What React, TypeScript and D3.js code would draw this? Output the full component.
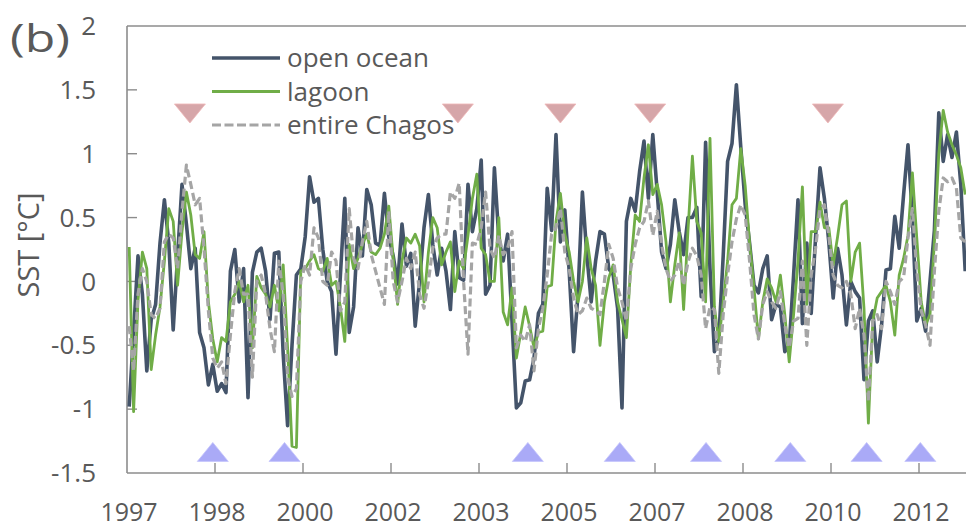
import React from "react";
import * as d3 from "d3";

// Monthly SST anomalies (°C), January 1997 onward
const openOcean = [
  -0.98, -0.4, 0.2, -0.1, -0.7, -0.3, -0.18, 0.3, 0.64, 0.3,
  -0.38, 0.2, 0.76, 0.45, 0.1, 0.26, -0.4, -0.52, -0.81, -0.65,
  -0.86, -0.8, -0.87, 0.08, 0.25, -0.16, 0.1, -0.91, 0.07, 0.23,
  0.26, 0.08, -0.3, 0.22, 0.23, -0.57, -1.13, -0.5, 0.05, 0.1,
  0.35, 0.82, 0.62, 0.65, 0.25, 0.0, -0.08, -0.57, 0.05, 0.65,
  -0.4, -0.2, 0.42, 0.2, 0.72, 0.6, 0.3, 0.28, 0.69, 0.35,
  0.2, -0.02, 0.45, 0.12, 0.22, -0.35, 0.0, 0.42, 0.68, 0.29,
  0.05, 0.26, 0.08, -0.22, 0.39, 0.03, 0.01, 0.76, 0.39, 0.57,
  0.95, -0.1, -0.03, 0.89, 0.34, 0.16, 0.37, -0.31, -0.99, -0.95,
  -0.78, -0.77, -0.6, -0.25, -0.18, 0.73, 0.4, 1.15, 0.31, 0.56,
  0.08, -0.55, -0.1, 0.7, 0.21, -0.16, 0.16, 0.39, 0.37, 0.1,
  0.05, -0.21, -0.99, 0.47, 0.65, 0.55, 0.86, 1.1, 0.65, 1.15,
  0.7, 0.23, 0.1, 0.29, 0.64, 0.39, 0.21, 0.5, 0.5, 0.58,
  -0.12, 1.09, 0.1, -0.55, -0.45, 0.2, 0.94, 1.08, 1.54, 1.05,
  0.6, 0.3, -0.03, -0.09, 0.1, 0.2, -0.3, -0.18, -0.2, -0.55,
  -0.5, 0.05, 0.64, -0.33, 0.3, -0.25, 0.35, 0.89, 0.65, 0.31,
  -0.13, 0.26, 0.05, -0.34, 0.0, -0.08, -0.13, -0.77, -0.31, -0.23,
  -0.63, -0.34, 0.09, 0.1, 0.51, 0.26, 0.68, 1.07, 0.5, -0.31,
  -0.21, -0.39, 0.0, 0.4, 1.32, 0.94, 1.15, 0.97, 1.17, 0.76,
  0.08,
];

const lagoon = [
  0.27, -1.02, -0.15, 0.23, 0.1, -0.69, -0.42, -0.2, 0.16, 0.57,
  0.47, -0.03, 0.39, 0.7, 0.52, 0.21, 0.18, 0.39, -0.16, -0.45,
  -0.63, -0.44, -0.47, -0.16, -0.1, 0.0, -0.16, -0.03, -0.52, 0.04,
  -0.05, -0.1, -0.2, -0.03, -0.23, 0.13, -0.52, -1.29, -1.3, 0.08,
  0.1, 0.16, 0.21, 0.1, 0.08, 0.18, -0.03, 0.0, -0.2, -0.47,
  0.29, 0.1, 0.18, 0.29, 0.37, 0.23, 0.21, 0.26, 0.37, 0.59,
  0.18, -0.18, 0.16, 0.34, 0.3, 0.37, 0.28, -0.16, 0.23, 0.5,
  0.42, 0.13, 0.23, 0.31, -0.08, 0.16, 0.1, 0.36, 0.65, 0.84,
  0.26, 0.21, 0.0, 0.0, 0.5, -0.24, -0.34, -0.05, -0.6, -0.4,
  -0.2, -0.35, -0.52, -0.4, -0.39, -0.04, -0.03, 0.47, 0.69, 0.37,
  0.23, 0.0, -0.16, 0.0, 0.34, 0.1, -0.03, -0.5, -0.16, 0.03,
  0.13, -0.16, -0.3, -0.44, 0.13, 0.52, 0.47, 0.81, 1.07, 0.68,
  0.76, 0.6, 0.31, -0.16, 0.13, 0.38, -0.22, 0.4, 0.98, 0.47,
  0.38, -0.16, 1.12, -0.2, -0.47, -0.16, 0.16, 0.6, 0.65, 1.04,
  0.75, 0.3, -0.05, -0.45, -0.16, 0.02, -0.05, -0.16, 0.05, -0.26,
  -0.63, -0.26, 0.16, 0.74, -0.18, 0.39, 0.39, 0.62, 0.42, 0.42,
  0.13, 0.35, 0.6, 0.63, 0.0, 0.23, 0.3, -0.21, -1.11, -0.31,
  -0.13, -0.08, -0.03, -0.16, -0.42, 0.05, 0.18, 0.36, 0.85, 0.34,
  -0.16, -0.34, -0.26, 0.31, 1.0, 1.34, 1.17, 1.07, 0.99, 0.89,
  0.68,
];

const entireChagos = [
  -0.35, -0.7, -0.1, 0.1, 0.0, -0.26, -0.29, -0.21, 0.31, 0.37,
  0.34, 0.1, 0.55, 0.91, 0.76, 0.6, 0.65, 0.26, -0.23, -0.6,
  -0.68, -0.63, -0.8, -0.42, -0.08, 0.1, -0.1, -0.1, -0.75, 0.0,
  0.05, -0.1, -0.37, -0.55, 0.16, -0.1, -0.75, -0.9, -0.84, 0.0,
  0.13, 0.05, 0.42, 0.34, 0.0, -0.03, 0.23, 0.16, -0.23, -0.16,
  0.57, 0.18, 0.1, 0.31, 0.47, 0.21, 0.08, -0.05, -0.18, 0.55,
  0.0, -0.16, 0.0, 0.18, 0.1, 0.23, -0.1, -0.21, 0.0, 0.26,
  0.34, 0.37, 0.37, 0.7, 0.65, 0.77, 0.0, -0.57, 0.3, 0.29,
  0.42, 0.7, 0.26, 0.18, 0.36, 0.21, 0.26, 0.39, -0.52, -0.42,
  -0.47, -0.34, -0.7, -0.37, -0.21, 0.05, 0.37, 0.42, 0.57, 0.23,
  0.1, -0.13, -0.26, -0.23, -0.13, -0.21, -0.23, -0.26, 0.0, 0.29,
  0.18, -0.05, -0.16, -0.31, 0.1, 0.29, 0.42, 0.47, 0.63, 0.36,
  0.55, 0.29, 0.1, 0.0, 0.05, 0.16, -0.03, 0.15, 0.26, 0.2,
  0.05, -0.37, -0.2, -0.22, -0.72, -0.26, 0.05, 0.31, 0.49, 0.6,
  0.52, 0.16, -0.26, -0.45, -0.18, -0.08, -0.16, -0.21, -0.08, -0.34,
  -0.52, -0.31, -0.29, 0.16, -0.5, 0.05, 0.26, 0.57, 0.6, 0.36,
  0.05, -0.03, -0.05, 0.0, -0.1, -0.37, -0.21, -0.42, -0.94, -0.31,
  -0.26, -0.37, 0.0, -0.08, -0.18, 0.0, 0.03, 0.34, 0.57, 0.08,
  -0.23, -0.34, -0.5, 0.08, 0.55, 0.81, 0.78, 0.81, 0.73, 0.34,
  0.31,
];

// Axis ticks: months since January 1997, every 20 months
const xTickMonths = [0, 20, 40, 60, 80, 100, 120, 140, 160, 180];
const xTickLabels = ["1997", "1998", "2000", "2002", "2003", "2005", "2007", "2008", "2010", "2012"];
const yTicks = [-1.5, -1, -0.5, 0, 0.5, 1, 1.5, 2];

// Event markers (month position since January 1997)
const warmEvents = [14.3, 75.2, 98.5, 118.9, 159.3];
const coolEvents = [19.5, 35.8, 91.1, 112, 131.6, 150.75, 168.1, 180.3];
const warmMarkerLevel = 1.315;
const coolMarkerLevel = -1.335;

const seriesNames = ["open ocean", "lagoon", "entire Chagos"];

const W = 966;
const H = 529;
const left = 127;
const top = 26;
const bottom = 473;

const AXIS = "#8c8c8c";
const TEXT = "#595959";
const FONT = "'Open Sans', 'Noto Sans', sans-serif";

export default function App() {
  const x = d3.scaleLinear().domain([0, 20]).range([left, left + 88]);
  const y = d3.scaleLinear().domain([-1.5, 2]).range([bottom, top]);

  // monthly values plotted at mid-month
  const line = d3
    .line<number>()
    .x((_, i) => x(i + 0.5))
    .y((d) => y(d));

  const series = [
    { name: seriesNames[0], values: openOcean, color: "#44546a", width: 3.6, dash: undefined as string | undefined },
    { name: seriesNames[1], values: lagoon, color: "#70ad47", width: 2.8, dash: undefined as string | undefined },
    { name: seriesNames[2], values: entireChagos, color: "#a5a5a5", width: 3.2, dash: "8,4" },
  ];

  const downTri = "M-15.5,-9.5L15.5,-9.5L0,9.5Z";
  const upTri = "M-15.5,9.5L15.5,9.5L0,-9.5Z";

  return (
    <svg
      width={W}
      height={H}
      style={{ position: "absolute", left: 0, top: 0, background: "#fff" }}
      fontFamily={FONT}
    >
      <defs>
        <clipPath id="plotClip">
          <rect x={left} y={top - 5} width={W - left} height={bottom - top + 10} />
        </clipPath>
      </defs>
      <rect x={0} y={0} width={W} height={H} fill="#fff" />

      {/* frame */}
      <line x1={left} x2={W} y1={top} y2={top} stroke={AXIS} strokeWidth={1.6} />
      <line x1={left} x2={left} y1={top} y2={bottom} stroke={AXIS} strokeWidth={1.6} />
      <line x1={left} x2={W} y1={bottom} y2={bottom} stroke={AXIS} strokeWidth={1.6} />

      {/* y ticks and labels */}
      {yTicks.map((t) => (
        <g key={"y" + t}>
          {t > -1.5 && t < 2 && (
            <line x1={left} x2={left + 10} y1={y(t)} y2={y(t)} stroke={AXIS} strokeWidth={1.4} />
          )}
          <text
            x={96}
            y={y(t)}
            dy="0.35em"
            textAnchor="end"
            fontSize={26}
            fill={TEXT}
          >
            {String(t)}
          </text>
        </g>
      ))}

      {/* x ticks and labels */}
      {xTickMonths.map((m, k) => (
        <g key={"x" + m}>
          {m > 0 && (
            <line x1={x(m)} x2={x(m)} y1={bottom} y2={bottom - 10} stroke={AXIS} strokeWidth={1.4} />
          )}
          <text x={x(m) + 2} y={521} textAnchor="middle" fontSize={25} fill={TEXT}>
            {xTickLabels[k]}
          </text>
        </g>
      ))}

      {/* axis title */}
      <text
        transform={`translate(29,${245}) rotate(-90)`}
        textAnchor="middle"
        dy="0.35em"
        fontSize={29}
        fill={TEXT}
      >
        SST [°C]
      </text>

      {/* panel label */}
      <text x={10} y={52} fontSize={38} fill={TEXT} textLength={60} lengthAdjust="spacingAndGlyphs">
        (b)
      </text>

      {/* event markers */}
      {warmEvents.map((m) => (
        <path
          key={"w" + m}
          d={downTri}
          transform={`translate(${x(m)},${y(warmMarkerLevel)})`}
          fill="#d6a6a9"
          stroke="#f0b8b8"
          strokeWidth={0.8}
        />
      ))}
      {coolEvents.map((m) => (
        <path
          key={"c" + m}
          d={upTri}
          transform={`translate(${x(m)},${y(coolMarkerLevel)})`}
          fill="#aaaaf7"
          stroke="#c4c4fb"
          strokeWidth={0.8}
        />
      ))}

      {/* series */}
      <g clipPath="url(#plotClip)">
        {series.map((s) => (
          <path
            key={s.name}
            d={line(s.values) || ""}
            fill="none"
            stroke={s.color}
            strokeWidth={s.width}
            strokeDasharray={s.dash}
            strokeLinejoin="round"
          />
        ))}
      </g>

      {/* legend */}
      {series.map((s, k) => {
        const ly = 58 + k * 33.5;
        return (
          <g key={"lg" + s.name}>
            <line
              x1={212}
              x2={280}
              y1={ly}
              y2={ly}
              stroke={s.color}
              strokeWidth={s.width}
              strokeDasharray={s.dash ? "9,3.5" : undefined}
            />
            <text x={287} y={ly} dy="0.35em" fontSize={26} fill={TEXT}>
              {s.name}
            </text>
          </g>
        );
      })}
    </svg>
  );
}
